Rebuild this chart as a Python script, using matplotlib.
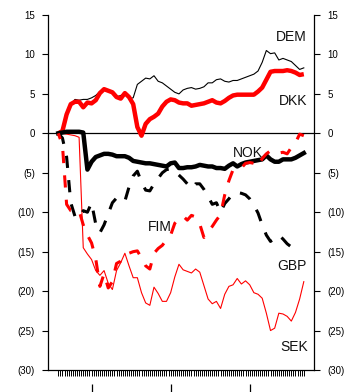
import numpy as np
import matplotlib
matplotlib.use("Agg")
import matplotlib.pyplot as plt

weeks = list(range(0, 120, 2))

dem = [0, 0.3, 2.1, 3.6, 4.3, 4.2, 4.3, 4.3, 4.5, 4.8, 5.3, 5.5, 5.4, 5.1, 4.6, 4.8, 5.0, 4.4, 4.5, 6.2,
       6.6, 7.0, 6.9, 7.3, 6.6, 6.4, 6.0, 5.6, 5.2, 5.0, 5.5, 5.7, 5.8, 5.6, 5.7, 5.9, 6.4, 6.4, 6.8, 6.9,
       6.6, 6.5, 6.7, 6.7, 6.9, 7.1, 7.3, 7.5, 7.9, 9.0, 10.5, 10.1, 10.2, 9.3, 9.5, 9.3, 9.1, 8.6, 8.1, 8.3]

dkk = [0, 0.3, 2.4, 3.7, 4.0, 4.0, 3.3, 3.9, 3.8, 4.2, 5.1, 5.6, 5.4, 5.2, 4.6, 4.4, 5.1, 4.6, 3.7, 0.8,
       -0.3, 1.2, 1.8, 2.1, 2.5, 3.4, 4.0, 4.3, 4.2, 3.9, 3.8, 3.8, 3.5, 3.6, 3.7, 3.8, 4.0, 4.2, 3.9, 3.8,
       4.1, 4.5, 4.8, 4.9, 4.9, 4.9, 4.9, 4.9, 5.3, 5.8, 6.8, 7.8, 7.9, 7.9, 7.9, 8.0, 7.9, 7.7, 7.4, 7.5]

nok = [0, 0.1, 0.2, 0.2, 0.2, 0.2, 0.1, -4.6, -3.6, -3.0, -2.8, -2.6, -2.6, -2.7, -2.9, -2.9, -2.9, -3.1, -3.5, -3.6,
       -3.7, -3.8, -3.8, -3.9, -4.0, -4.1, -4.2, -3.8, -3.7, -4.4, -4.4, -4.3, -4.3, -4.2, -4.0, -4.1, -4.2, -4.2, -4.4, -4.4,
       -4.5, -4.1, -3.8, -4.2, -3.9, -3.7, -3.6, -3.5, -3.4, -3.3, -2.8, -3.3, -3.6, -3.6, -3.3, -3.3, -3.3, -3.1, -2.8, -2.5]

fim = [0, -0.6, -3.0, -8.8, -10.5, -10.8, -9.8, -10.0, -8.8, -11.5, -12.6, -11.6, -10.2, -8.8, -8.2, -8.6, -8.6, -6.8, -5.4, -4.8,
       -6.2, -7.2, -7.3, -6.4, -5.7, -5.0, -4.6, -4.5, -4.8, -5.3, -5.8, -6.4, -7.0, -6.4, -6.4, -7.1, -8.0, -9.0, -8.8, -10.0,
       -8.9, -8.3, -7.6, -7.5, -7.6, -7.8, -8.3, -9.1, -10.1, -11.6, -12.9, -13.7, -13.3, -12.9, -13.4, -14.0, -14.4, -14.2, np.nan, np.nan]

gbp = [0, -1.5, -9.0, -9.8, -9.9, -9.8, -11.6, -12.9, -13.9, -15.9, -19.4, -17.8, -19.6, -18.8, -16.5, -16.2, -15.4, -15.2, -15.0, -14.9,
       -15.8, -16.8, -17.2, -15.2, -14.6, -14.2, -13.5, -12.9, -11.4, -10.8, -10.5, -11.0, -10.4, -10.6, -11.5, -13.2, -12.4, -11.8, -11.0, -10.3,
       -7.8, -6.0, -4.6, -4.4, -4.4, -3.8, -3.7, -3.8, -4.2, -3.2, -2.6, -2.2, -2.3, -2.5, -2.4, -2.6, -1.8, -1.2, -0.1, -0.3]

sek = [0, 0, -0.1, -0.2, -0.3, -0.5, -14.5, -15.3, -16.0, -17.4, -18.0, -17.4, -19.0, -19.8, -17.4, -16.4, -15.2, -16.8, -18.3, -18.3,
       -20.2, -21.5, -21.8, -19.5, -20.3, -21.3, -21.3, -20.2, -18.2, -16.6, -17.3, -17.5, -17.7, -17.2, -17.6, -19.3, -21.0, -21.6, -21.3, -22.2,
       -20.4, -19.4, -19.2, -18.4, -19.1, -18.7, -19.2, -20.2, -20.4, -20.9, -22.8, -25.0, -24.7, -22.8, -22.9, -23.2, -23.8, -22.7, -21.0, -18.8]

series_labels = ["DEM", "DKK", "NOK", "FIM", "GBP", "SEK"]
label_y = [12.2, 4.1, -2.5, -11.9, -16.8, -27.1]
label_week = [119.5, 119.5, 91, 49, 119.5, 120]
label_ha = ["right", "right", "center", "center", "right", "right"]

yticks = list(range(-30, 20, 5))
ytick_labels = [("(%d)" % -v) if v < 0 else str(v) for v in yticks]
minor_weeks = list(range(0, 119))
major_weeks = [16, 54.3, 92.3]

fig = plt.figure(figsize=(3.63, 3.92), dpi=100)
ax = fig.add_axes([48.3 / 363, 1 - 370 / 392, (314 - 48.3) / 363, 355 / 392])

red = "#ff0000"
ax.plot(weeks, dem, color="black", lw=0.8, zorder=2)
ax.plot(weeks, dkk, color=red, lw=3.2, zorder=3, solid_capstyle="butt")
ax.plot(weeks, sek, color=red, lw=0.8, zorder=2)
ax.plot(weeks, fim, color="black", lw=2.2, zorder=3, linestyle=(0, (4, 4)))
ax.plot(weeks, nok, color="black", lw=3.2, zorder=4)
ax.plot(weeks, gbp, color=red, lw=2.2, zorder=5, linestyle=(2, (4, 4)))
ax.axhline(0, color="black", lw=0.9, zorder=1)

for t, y, w, ha in zip(series_labels, label_y, label_week, label_ha):
    ax.text(w, y, t, ha=ha, va="center", fontsize=10, family="Liberation Sans", color="#111111")

ax.set_xlim(-4.8, 122.9)
ax.set_ylim(-30, 15)
ax.set_yticks(yticks)
ax.set_yticklabels(ytick_labels, family="Liberation Sans", fontsize=7)
ax.tick_params(axis="y", direction="out", length=4.5, width=0.8, right=True, labelright=True, pad=5)
ax.set_xticks(minor_weeks)
ax.set_xticklabels([])
ax.tick_params(axis="x", direction="out", length=4.5, width=0.7)
ax.spines["top"].set_visible(False)
for s in ["left", "right", "bottom"]:
    ax.spines[s].set_linewidth(0.9)

sec = ax.secondary_xaxis(-0.039)
sec.spines["bottom"].set_visible(False)
sec.set_xticks(major_weeks)
sec.set_xticklabels([])
sec.tick_params(axis="x", direction="out", length=6, width=0.9)

fig.savefig("out.png", dpi=100)
